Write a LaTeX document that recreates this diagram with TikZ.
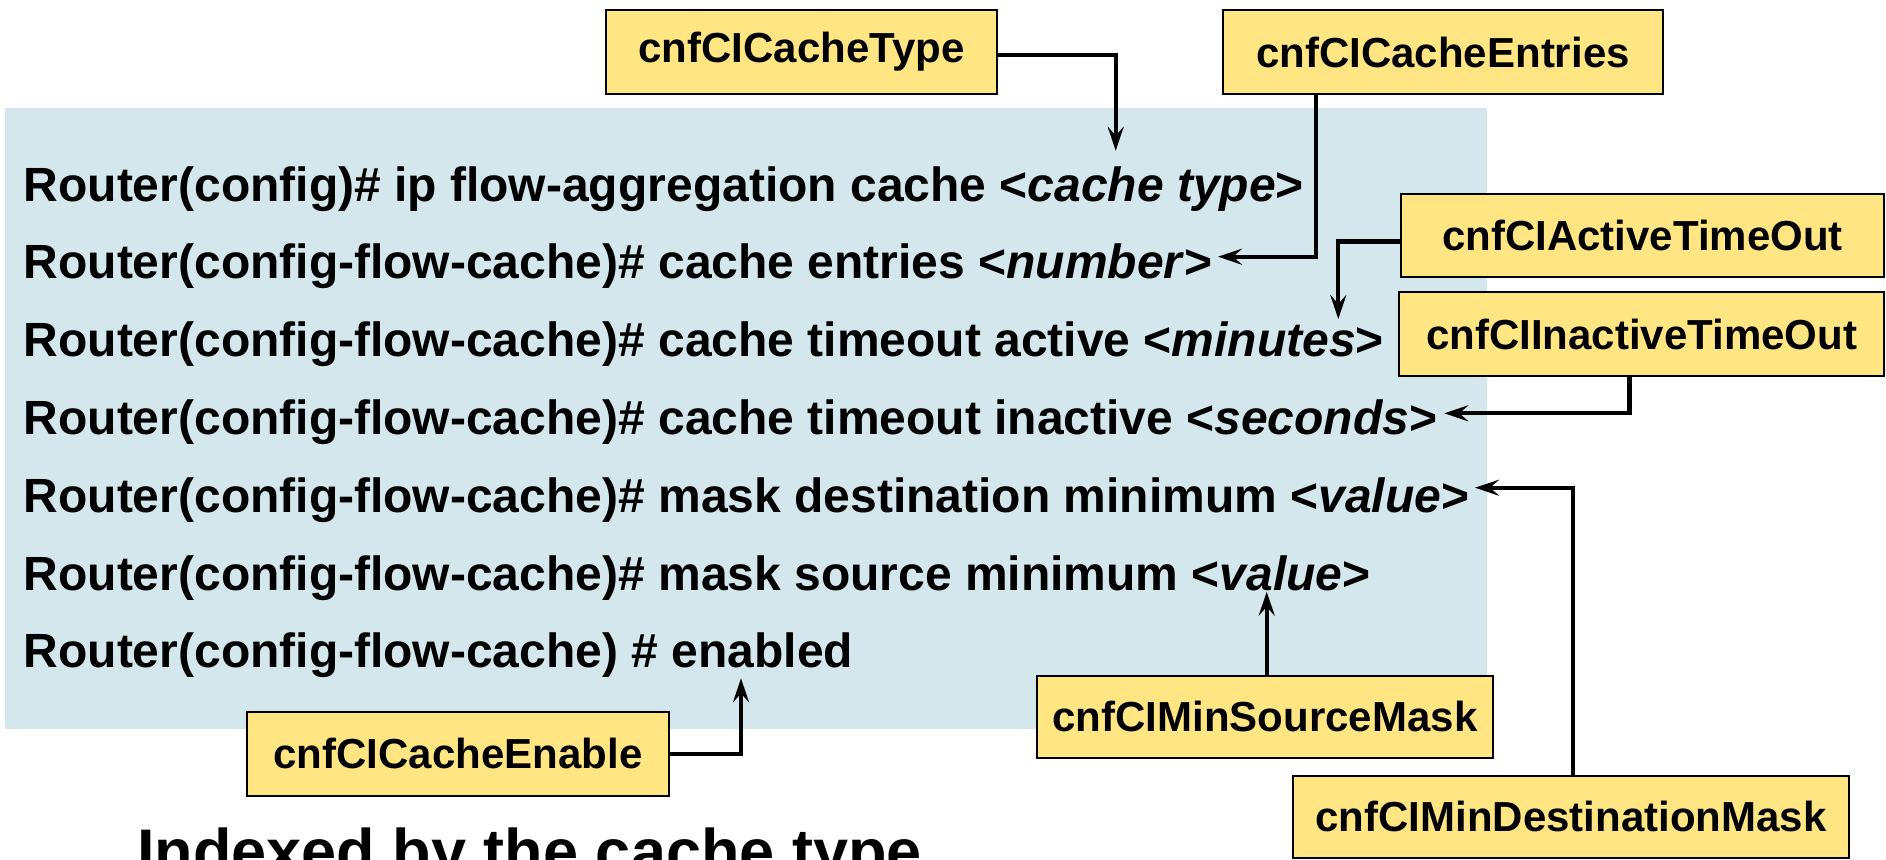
\documentclass[tikz,border=0pt]{standalone}
\usepackage{fontspec}
\setmainfont{Liberation Sans}
\usetikzlibrary{arrows.meta,calc}

\definecolor{panelblue}{RGB}{211,231,236}
\definecolor{tagyellow}{RGB}{255,230,130}

\tikzset{
  x=0.5pt, y=-0.5pt,
  cmdline/.style={anchor=base west, inner sep=0pt, font=\fontsize{24}{28}\selectfont\bfseries},
  tagbox/.style={draw=black, line width=1pt, fill=tagyellow, inner sep=0pt,
    font=\fontsize{21}{25}\selectfont\bfseries},
  conn/.style={line width=2.1pt,
    -{Stealth[length=12pt,width=8pt,inset=4.5pt]}},
}
\newcommand{\cmdarg}[1]{<\textit{#1}>}

\begin{document}
\begin{tikzpicture}
\useasboundingbox (0,0) rectangle (1886,859);
\clip (0,0) rectangle (1886,859);

% command panel
\fill[panelblue] (5,108) rectangle (1487,729);

\node[cmdline] (l1) at (23.3,201)   {Router(config)\# ip flow-aggregation cache \cmdarg{cache type}};
\node[cmdline] (l2) at (23.3,278.8) {Router(config-flow-cache)\# cache entries \cmdarg{number}};
\node[cmdline] (l3) at (23.3,356.6) {Router(config-flow-cache)\# cache timeout active \cmdarg{minutes}};
\node[cmdline] (l4) at (23.3,434.4) {Router(config-flow-cache)\# cache timeout inactive \cmdarg{seconds}};
\node[cmdline] (l5) at (23.3,512.2) {Router(config-flow-cache)\# mask destination minimum \cmdarg{value}};
\node[cmdline] (l6) at (23.3,590)   {Router(config-flow-cache)\# mask source minimum \cmdarg{value}};
\node[cmdline] (l7) at (23.3,667.8) {Router(config-flow-cache) \# enabled};

% MIB object tags
\node[tagbox, minimum width=195.5pt, minimum height=42.25pt] (ctype)    at (801.5,51.75) {cnfCICacheType};
\node[tagbox, minimum width=220pt,   minimum height=42pt]    (centries) at (1443,52)     {cnfCICacheEntries};
\node[tagbox, minimum width=241.5pt, minimum height=41.5pt]  (cactive)  at (1642.5,235.5) {cnfCIActiveTimeOut};
\node[tagbox, minimum width=242.5pt, minimum height=41.6pt]  (cinact)   at (1641.5,334)  {cnfCIInactiveTimeOut};
\node[tagbox, minimum width=228pt,   minimum height=41pt]    (csrc)     at (1265,716.9)  {cnfCIMinSourceMask};
\node[tagbox, minimum width=278pt,   minimum height=41pt]    (cdst)     at (1571,816.7)  {cnfCIMinDestinationMask};
\node[tagbox, minimum width=211pt,   minimum height=42pt]    (cenable)  at (458,753.9)   {cnfCICacheEnable};

% arrow targets
\coordinate (tType)    at (1115.7,150.7);
\coordinate (tEntries) at (1218,256.7);
\coordinate (tActive)  at (1338.3,319);
\coordinate (tInact)   at (1444.3,413.3);
\coordinate (tSrc)     at (1266.7,591.7);
\coordinate (tDst)     at (1475,487.7);
\coordinate (tEnable)  at (741,678.3);

% connectors
\draw[conn] ($(ctype.east)+(0,3)$) -| (tType);
\draw[conn] ($(centries.south west)+(94,0)$) |- (tEntries);
\draw[conn] ($(cactive.west)+(0,6)$) -| (tActive);
\draw[conn] ($(cinact.south)+(-12,0)$) |- (tInact);
\draw[conn] (csrc.north -| tSrc) -- (tSrc);
\draw[conn] ($(cdst.north)+(1.7,0)$) |- (tDst);
\draw[conn] (cenable.east) -| (tEnable);

% caption, cut by the lower edge
\node[anchor=base west, inner sep=0pt, font=\fontsize{31.5}{36}\selectfont\bfseries] (caption)
  at (137,873) {Indexed by the cache type};
\end{tikzpicture}
\end{document}
